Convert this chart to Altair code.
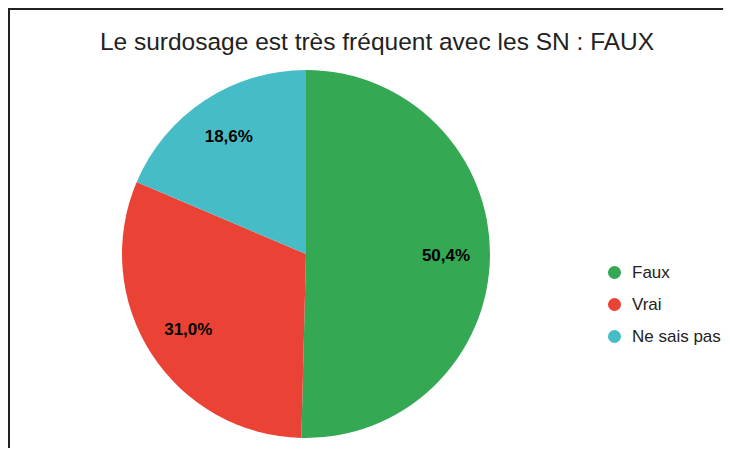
import altair as alt
import pandas as pd

categories = ["Faux", "Vrai", "Ne sais pas"]
values = [50.4, 31.0, 18.6]
labels = ["50,4%", "31,0%", "18,6%"]
colors = ["#34A853", "#EA4335", "#46BDC6"]
title_text = "Le surdosage est très fréquent avec les SN : FAUX"

df = pd.DataFrame({"cat": categories, "val": values, "label": labels, "ord": [0, 1, 2]})
one = pd.DataFrame({"t": [title_text]})

W, H = 717, 440
CX, CY, R = 298, 246, 184
FONT = "Liberation Sans"

base = alt.Chart(df).encode(
    theta=alt.Theta("val:Q", stack=True),
    order=alt.Order("ord:Q"),
)

pie = base.mark_arc(outerRadius=R).encode(
    color=alt.Color(
        "cat:N",
        scale=alt.Scale(domain=categories, range=colors),
        sort=categories,
        legend=alt.Legend(
            title=None,
            orient="none",
            legendX=598,
            legendY=256,
            symbolType="circle",
            symbolSize=170,
            symbolStrokeWidth=0,
            labelFont=FONT,
            labelFontSize=17,
            labelColor="#222222",
            labelOffset=9,
            rowPadding=14,
        ),
    ),
    x=alt.value(CX),
    y=alt.value(CY),
)

text = base.mark_text(
    radius=140, font=FONT, fontSize=17, fontWeight="bold", color="#000000"
).encode(text="label:N", x=alt.value(CX), y=alt.value(CY))

title = alt.Chart(one).mark_text(
    font=FONT, fontSize=24.5, color="#222222", align="center", baseline="middle"
).encode(text="t:N", x=alt.value(369), y=alt.value(35))

left = alt.Chart(one).mark_rule(color="#222222", strokeWidth=2).encode(
    x=alt.value(1), y=alt.value(0), y2=alt.value(H)
)
top = alt.Chart(one).mark_rule(color="#222222", strokeWidth=2).encode(
    y=alt.value(1), x=alt.value(0), x2=alt.value(W - 2)
)

chart = (
    alt.layer(pie, text, title, left, top)
    .properties(width=W, height=H, padding=0, autosize=alt.AutoSizeParams(type="none"))
    .configure_view(stroke="transparent", strokeWidth=0)
    .configure(background="white")
)

chart.save("out.html", embed_options={"renderer": "svg", "actions": False})
